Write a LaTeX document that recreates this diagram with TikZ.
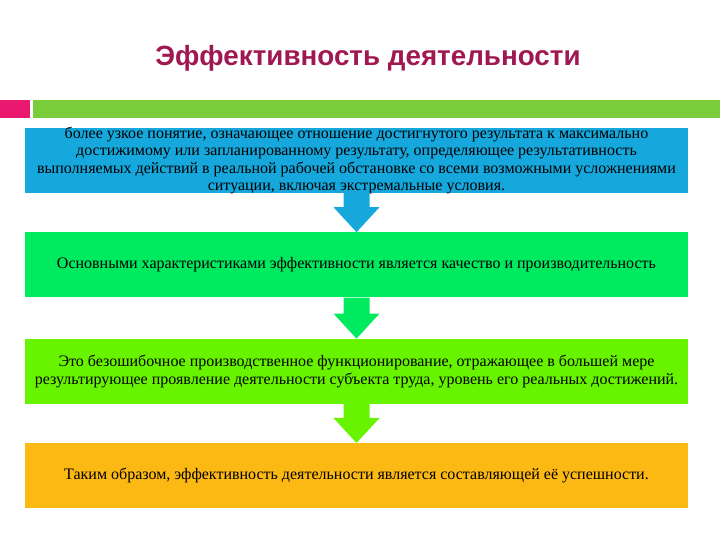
\documentclass[tikz,border=0pt]{standalone}
\usepackage{fontspec}
\setmainfont{Liberation Serif}
\newfontfamily\headfont{Liberation Sans}
\usetikzlibrary{positioning,calc}
\definecolor{titlered}{RGB}{160,24,82}
\definecolor{barpink}{RGB}{233,25,111}
\definecolor{bargreen}{RGB}{122,204,58}
\definecolor{skyblue}{RGB}{22,168,221}
\definecolor{brightgreen}{RGB}{0,234,96}
\definecolor{limegreen}{RGB}{104,244,0}
\definecolor{amber}{RGB}{253,185,19}
\tikzset{panel/.style={minimum width=663pt,minimum height=65pt,inner xsep=2pt,inner ysep=0pt,align=center,font=\fontsize{16}{17.5}\selectfont}}
\newcommand\blockarr[3]{\fill[#3] ($(#1.south)+(-13,0)$) -- ($(#2.north)+(-13,25)$) -- ($(#2.north)+(-23,25)$) -- (#2.north) -- ($(#2.north)+(23,25)$) -- ($(#2.north)+(13,25)$) -- ($(#1.south)+(13,0)$) -- cycle;}
\begin{document}
\begin{tikzpicture}[x=1pt,y=1pt]
 \useasboundingbox (0,0) rectangle (720,540);
 \node[text=titlered,font=\headfont\bfseries\fontsize{27.8}{32}\selectfont] (title) at (368,482) {Эффективность деятельности};
 \fill[barpink] (0,422) rectangle (30,440);
 \fill[bargreen] (33,422) rectangle (720,440);
 \node[panel,fill=skyblue,inner ysep=-2pt] (def) at (356.5,379.5) {более узкое понятие, означающее отношение достигнутого результата к максимально\\ достижимому или запланированному результату, определяющее результативность\\ выполняемых действий в реальной рабочей обстановке со всеми возможными усложнениями\\ ситуации, включая экстремальные условия.};
 \node[panel,fill=brightgreen,below=39pt of def] (traits) {Основными характеристиками эффективности является качество и производительность};
 \node[panel,fill=limegreen,below=41pt of traits] (faultless) {Это безошибочное производственное функционирование, отражающее в большей мере\\ результирующее проявление деятельности субъекта труда, уровень его реальных достижений.};
 \node[panel,fill=amber,below=39pt of faultless] (summary) {Таким образом, эффективность деятельности является составляющей её успешности.};
 \blockarr{def}{traits}{skyblue}
 \blockarr{traits}{faultless}{brightgreen}
 \blockarr{faultless}{summary}{limegreen}
\end{tikzpicture}
\end{document}
